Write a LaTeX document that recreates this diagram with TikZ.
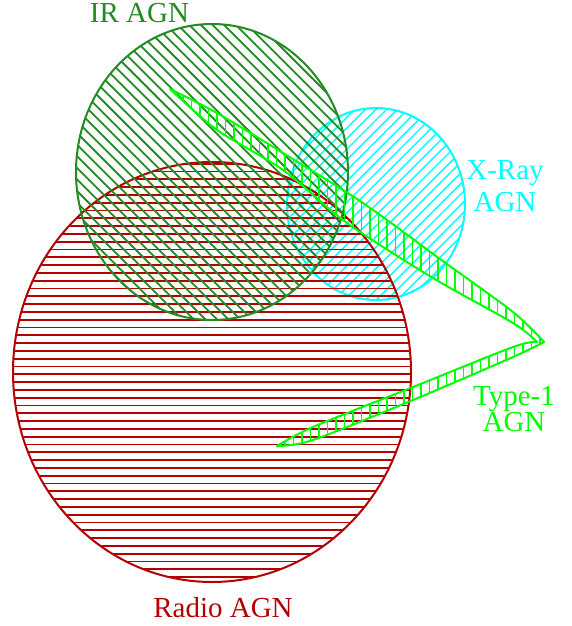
\documentclass[tikz,border=0pt]{standalone}
\usepackage{fontspec}
\setmainfont{Liberation Serif}
\definecolor{irgreen}{RGB}{34,139,34}
\definecolor{radiored}{RGB}{180,0,0}
\definecolor{xcyan}{RGB}{0,255,255}
\definecolor{tgreen}{RGB}{0,255,0}
\tikzset{
  setline/.style={line width=2pt},
  hatchline/.style={line width=1.8pt},
  lbl/.style={font=\fontsize{29}{31}\selectfont, inner sep=0pt, align=center}
}
\newcommand\typeonepath{plot[smooth, tension=0.5] coordinates {(170,89) (217,113) (283,153) (363,203) (440,259) (513,312) (544,342)}
  -- plot[smooth, tension=0.5] coordinates {(544,342) (513,357) (413,400) (313,440) (277,446)}
  -- plot[smooth, tension=0.5] coordinates {(277,446) (313,427) (413,387) (513,347) (537,342)}
  -- plot[smooth, tension=0.5] coordinates {(537,342) (513,323) (433,278) (347,223) (283,170) (217,130) (170,89)}
  -- cycle}
\begin{document}
\begin{tikzpicture}[x=1pt,y=-1pt]
\useasboundingbox (0,0) rectangle (571,626);
% X-ray
\begin{scope}
  \clip (376,204) ellipse [x radius=89, y radius=96];
  \foreach \c in {390,400.6,...,780}
    \draw[hatchline, line width=1.4pt, xcyan] (\c-400,400) -- (\c,0);
\end{scope}
\draw[setline, xcyan] (376,204) ellipse [x radius=89, y radius=96];
% Radio
\begin{scope}
  \clip (212,372) ellipse [x radius=199, y radius=210];
  \foreach \c in {155.8,163.6,...,590}
    \draw[hatchline, radiored] (0,\c) -- (420,\c);
\end{scope}
\draw[setline, radiored] (212,372) ellipse [x radius=199, y radius=210];
% IR
\begin{scope}
  \clip (212,172) ellipse [x radius=136, y radius=148];
  \foreach \c in {-350,-338.4,...,260}
    \draw[hatchline, irgreen] (0,\c) -- (400,\c+400);
\end{scope}
\draw[setline, irgreen] (212,172) ellipse [x radius=136, y radius=148];
% Type-1
\begin{scope}
  \clip \typeonepath;
  \foreach \c in {166,174.5,...,550}
    \draw[hatchline, tgreen] (\c,80) -- (\c,450);
\end{scope}
\draw[setline, tgreen, line join=round] \typeonepath;
% labels
\node[lbl, text=irgreen, anchor=base] (ir) at (139.5,23) {IR AGN};
\node[lbl, text=xcyan, anchor=base] (xr) at (505,211.7) {X-Ray\\[1.7pt]AGN};
\node[lbl, text=tgreen, anchor=base] (t1) at (514,431.7) {Type-1\\[-4.3pt]AGN};
\node[lbl, text=radiored, anchor=base] (ra) at (223,617.7) {Radio AGN};
\end{tikzpicture}
\end{document}
